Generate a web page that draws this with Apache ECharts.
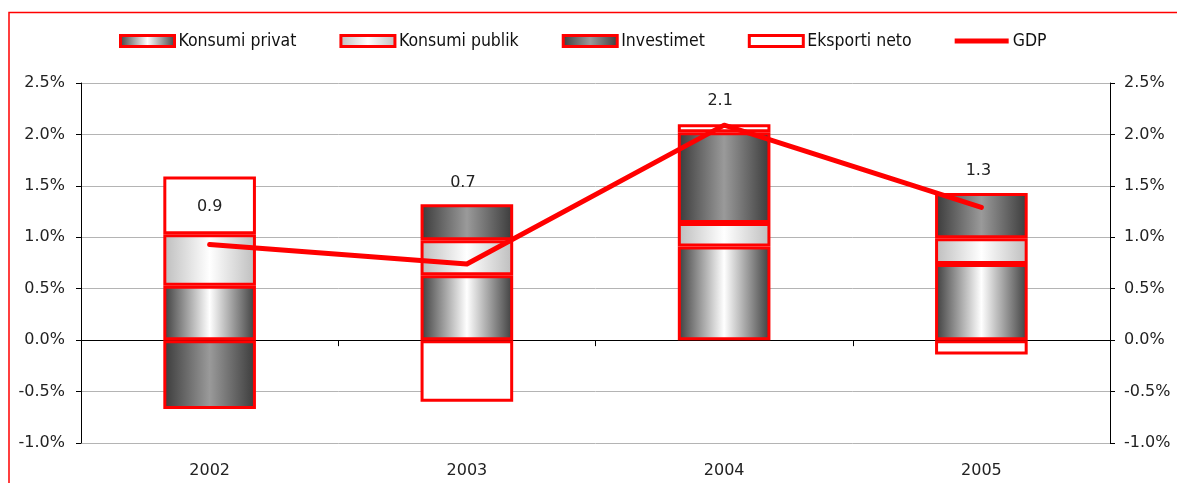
<html lang="sq">
<head>
    <meta charset="UTF-8">
    <title>GDP kontributet</title>
    <script src="https://cdn.jsdelivr.net/npm/echarts@6/dist/echarts.min.js"></script>
    <style>
        body { margin: 0; background: #fff; }
        #chart { width: 1177px; height: 483px; }
    </style>
</head>
<body>
<div id="chart"></div>
<script type="text/javascript">
    // te dhenat (ne %)
    var years = ['2002', '2003', '2004', '2005'];
    var konsumiPrivat = [0.53, 0.63, 0.91, 0.74];
    var konsumiPublik = [0.50, 0.34, 0.23, 0.25];
    var investimet = [-0.67, 0.35, 0.88, 0.44];
    var eksportiNeto = [0.56, -0.60, 0.08, -0.14];
    var gdp = [0.93, 0.74, 2.09, 1.29];
    var gdpLabels = ['0.9', '0.7', '2.1', '1.3'];
    var yTicks = [-1.0, -0.5, 0.0, 0.5, 1.0, 1.5, 2.0, 2.5];

    // zhvendosja e etiketave mbi vije (px)
    var labelOffsets = [[0, -38], [-4, -81], [-4, -24], [-3, -37]];

    var font = 'DejaVu Sans';

    function grad(edge, mid) {
        return new echarts.graphic.LinearGradient(0, 0, 1, 0, [
            {offset: 0, color: edge},
            {offset: 0.5, color: mid},
            {offset: 1, color: edge}
        ]);
    }

    function barSeries(name, data, fill) {
        return {
            name: name,
            type: 'bar',
            stack: 'total',
            barWidth: '36%',
            data: data,
            itemStyle: {color: fill, borderColor: '#ff0000', borderWidth: 3}
        };
    }

    var myChart = echarts.init(document.getElementById('chart'));

    var gdpData = gdp.map(function (v, i) {
        return {
            value: v,
            label: {formatter: gdpLabels[i], offset: labelOffsets[i]}
        };
    });

    var yAxisBase = {
        type: 'value',
        min: yTicks[0],
        max: yTicks[yTicks.length - 1],
        interval: 0.5,
        axisLine: {show: true, lineStyle: {color: '#000', width: 1}},
        axisTick: {show: true, length: 5, lineStyle: {color: '#000'}},
        axisLabel: {
            fontFamily: font, fontSize: 16, color: '#222',
            formatter: function (v) { return v.toFixed(1) + '%'; }
        }
    };

    var option = {
        animation: false,
        textStyle: {fontFamily: font},
        graphic: [{
            type: 'rect',
            shape: {x: 9, y: 12.5, width: 1200, height: 500},
            style: {fill: 'none', stroke: '#ff0000', lineWidth: 1.5},
            silent: true
        }],
        legend: {
            top: 32,
            left: 119,
            padding: 0,
            itemWidth: 54,
            itemHeight: 11,
            itemGap: 43,
            icon: 'rect',
            itemStyle: {borderColor: '#ff0000', borderWidth: 3},
            textStyle: {fontFamily: 'DejaVu Sans Condensed', fontSize: 17.5, color: '#111', padding: [0, 0, 0, -1]},
            data: [
                'Konsumi privat', 'Konsumi publik', 'Investimet', 'Eksporti neto',
                {name: 'GDP', icon: 'path://M0,0L110,0L110,10L0,10Z', itemStyle: {borderWidth: 0}}
            ]
        },
        grid: {left: 81, right: 67, top: 83, bottom: 40},
        xAxis: [{
            type: 'category',
            data: years,
            axisLine: {onZero: true, lineStyle: {color: '#000', width: 1}},
            axisTick: {show: true, length: 6, lineStyle: {color: '#000'}},
            axisLabel: {show: false}
        }, {
            type: 'category',
            data: years,
            position: 'bottom',
            axisLine: {show: false, onZero: false},
            axisTick: {show: false},
            axisLabel: {fontFamily: font, fontSize: 16, color: '#222', margin: 20}
        }],
        yAxis: [
            Object.assign({}, yAxisBase, {
                position: 'left',
                splitLine: {show: true, lineStyle: {color: '#b4b4b4', width: 1}},
                axisLabel: Object.assign({}, yAxisBase.axisLabel, {margin: 16})
            }),
            Object.assign({}, yAxisBase, {
                position: 'right',
                splitLine: {show: false},
                axisLabel: Object.assign({}, yAxisBase.axisLabel, {margin: 14})
            })
        ],
        series: [
            barSeries('Konsumi privat', konsumiPrivat, grad('#3c3c3c', '#ffffff')),
            barSeries('Konsumi publik', konsumiPublik, grad('#bdbdbd', '#ffffff')),
            barSeries('Investimet', investimet, grad('#3a3a3a', '#9a9a9a')),
            barSeries('Eksporti neto', eksportiNeto, '#ffffff'),
            {
                name: 'GDP',
                type: 'line',
                data: gdpData,
                symbol: 'circle',
                symbolSize: 1,
                z: 5,
                lineStyle: {color: '#ff0000', width: 5, cap: 'round', join: 'round'},
                itemStyle: {color: '#ff0000'},
                label: {
                    show: true, position: 'inside',
                    fontFamily: font, fontSize: 16, color: '#222'
                }
            }
        ]
    };

    myChart.setOption(option);
</script>
</body>
</html>
